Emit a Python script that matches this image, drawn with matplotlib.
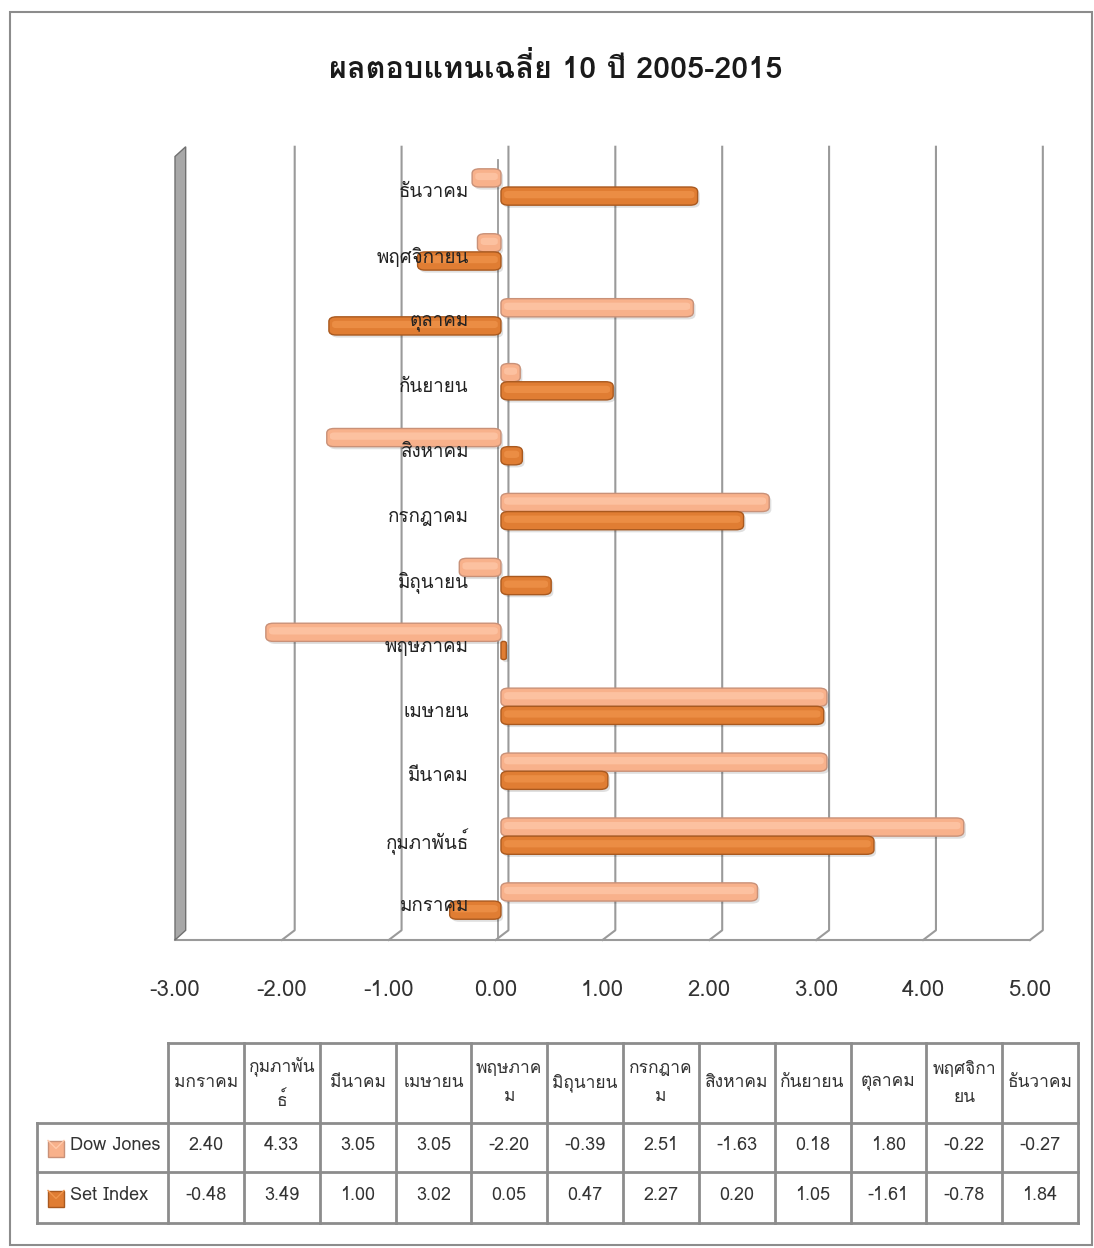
import matplotlib
matplotlib.use("Agg")
import matplotlib.pyplot as plt
import numpy as np
from matplotlib import font_manager, ft2font
from matplotlib.patches import Rectangle, Polygon, FancyBboxPatch

# ข้อมูล
months = ["มกราคม", "กุมภาพันธ์", "มีนาคม", "เมษายน", "พฤษภาคม", "มิถุนายน",
          "กรกฎาคม", "สิงหาคม", "กันยายน", "ตุลาคม", "พฤศจิกายน", "ธันวาคม"]
header_labels = ["มกราคม", "กุมภาพัน\nธ์", "มีนาคม", "เมษายน", "พฤษภาค\nม", "มิถุนายน",
                 "กรกฎาค\nม", "สิงหาคม", "กันยายน", "ตุลาคม", "พฤศจิกา\nยน", "ธันวาคม"]
dow_jones = [2.40, 4.33, 3.05, 3.05, -2.20, -0.39, 2.51, -1.63, 0.18, 1.80, -0.22, -0.27]
set_index = [-0.48, 3.49, 1.00, 3.02, 0.05, 0.47, 2.27, 0.20, 1.05, -1.61, -0.78, 1.84]
series_names = ["Dow Jones", "Set Index"]
x_ticks = np.arange(-3, 6, 1)

# สี: (พื้น, ไฮไลต์, ขอบ)
DOW_COLORS = ("#f8b18b", "#ffc9aa", "#c99178")
SET_COLORS = ("#e07d33", "#f0954c", "#a9591f")


def find_thai_font():
    for f in font_manager.fontManager.ttflist:
        try:
            ft = ft2font.FT2Font(f.fname)
            if ft.get_char_index(0x0E01) and ft.get_char_index(0x0E21):
                return f.name
        except Exception:
            pass
    return "DejaVu Sans"


thai = find_thai_font()
plt.rcParams["font.family"] = [thai, "DejaVu Sans"]

W, H = 1094, 1248
fig = plt.figure(figsize=(W / 100, H / 100), dpi=100)

# แกนพิกเซลสำหรับกรอบและตาราง
pax = fig.add_axes([0, 0, 1, 1])
pax.set_xlim(0, W)
pax.set_ylim(H, 0)
pax.axis("off")
pax.add_patch(Rectangle((10, 12), 1082, 1233, fill=False, edgecolor="#8c8c8c", lw=1.5))
pax.text(556, 68, "ผลตอบแทนเฉลี่ย 10 ปี 2005-2015", ha="center", va="center",
         fontsize=22, fontweight="bold", color="#1a1a1a")

ax = fig.add_axes([175 / W, 1 - 940 / H, (1030 - 175) / W, (940 - 150) / H])
y = np.arange(len(months))
bh = 0.28
ymin, ymax = -0.6, 11.57
base = 0.05
ax.set_xlim(-3, 5)
ax.set_ylim(ymin, ymax)

# เส้นกริดแบบสามมิติ
for xv in x_ticks[1:]:
    ax.plot([xv + 0.12, xv + 0.12, xv], [ymax + 0.05, ymin + 0.15, ymin], color="#9a9a9a",
            lw=1.5, zorder=1, clip_on=False)
ax.plot([-3, 5], [ymin, ymin], color="#9a9a9a", lw=1.5, zorder=1, clip_on=False)
ax.plot([0.02, 0.02], [ymax - 0.15, ymin], color="#9a9a9a", lw=1.3, zorder=1)
# ผนังซ้าย
ax.add_patch(Polygon([[-3, ymin], [-3, ymax - 0.1], [-2.9, ymax + 0.05], [-2.9, ymin + 0.15]],
                     closed=True, facecolor="#a8a8a8", edgecolor="#707070", lw=1, clip_on=False))


def draw_bar(yc, v, colors):
    fc, hc, ec = colors
    x0 = min(base, base + v)
    w = abs(v)
    rs = min(0.07, w / 2)
    y0 = yc - bh / 2
    ax.add_patch(FancyBboxPatch((x0 + 0.02, y0 - 0.04), w, bh,
                                boxstyle=f"round,pad=0,rounding_size={rs}",
                                facecolor="#000000", edgecolor="none", alpha=0.12, zorder=2))
    ax.add_patch(FancyBboxPatch((x0, y0), w, bh, boxstyle=f"round,pad=0,rounding_size={rs}",
                                facecolor=fc, edgecolor=ec, lw=1.0, zorder=3))
    if w > 0.1:
        ax.add_patch(FancyBboxPatch((x0 + 0.03, y0 + bh * 0.38), w - 0.06, bh * 0.4,
                                    boxstyle=f"round,pad=0,rounding_size={min(rs, 0.04)}",
                                    facecolor=hc, edgecolor="none", alpha=0.7, zorder=3))


for yi, dv, sv in zip(y, dow_jones, set_index):
    draw_bar(yi + bh / 2, dv, DOW_COLORS)
    draw_bar(yi - bh / 2, sv, SET_COLORS)

for yi, m in zip(y, months):
    ax.text(-0.25, yi - 0.08, m, ha="right", va="center", fontsize=13.5, color="#222222",
            zorder=4)

ax.set_yticks([])
ax.set_xticks(x_ticks)
ax.set_xticklabels([f"{v:.2f}" for v in x_ticks], fontsize=16, color="#333333")
ax.tick_params(axis="x", length=0, pad=29)
for s in ax.spines.values():
    s.set_visible(False)

# ตารางข้อมูล
col_edges = np.linspace(168, 1078, len(months) + 1)
row_edges = [1043, 1123, 1172, 1223]
left = 37
lc = "#8c8c8c"
# เส้นแนวนอน
pax.plot([col_edges[0], col_edges[-1]], [row_edges[0]] * 2, color=lc, lw=2)
for ry in row_edges[1:]:
    pax.plot([left, col_edges[-1]], [ry, ry], color=lc, lw=2)
# เส้นแนวตั้ง
for cx in col_edges:
    pax.plot([cx, cx], [row_edges[0], row_edges[-1]], color=lc, lw=2)
pax.plot([left, left], [row_edges[1], row_edges[-1]], color=lc, lw=2)

centers = (col_edges[:-1] + col_edges[1:]) / 2
for cx, lab in zip(centers, header_labels):
    pax.text(cx, (row_edges[0] + row_edges[1]) / 2, lab, ha="center", va="center",
             fontsize=12.5, color="#333333", linespacing=2.0)
rows = [dow_jones, set_index]
colors = [DOW_COLORS, SET_COLORS]
for i, (name, vals, cs) in enumerate(zip(series_names, rows, colors)):
    cy = (row_edges[i + 1] + row_edges[i + 2]) / 2
    pax.add_patch(Rectangle((48, cy - 7), 16, 16, facecolor=cs[0], edgecolor=cs[2], lw=1))
    pax.plot([48, 56, 64], [cy - 7, cy + 1, cy - 7], color=cs[1], lw=1)
    pax.text(70, cy - 2, name, ha="left", va="center", fontsize=13, color="#333333")
    for cx, v in zip(centers, vals):
        pax.text(cx, cy - 2, f"{v:.2f}", ha="center", va="center", fontsize=13, color="#333333")

fig.savefig("out.png", dpi=100)
